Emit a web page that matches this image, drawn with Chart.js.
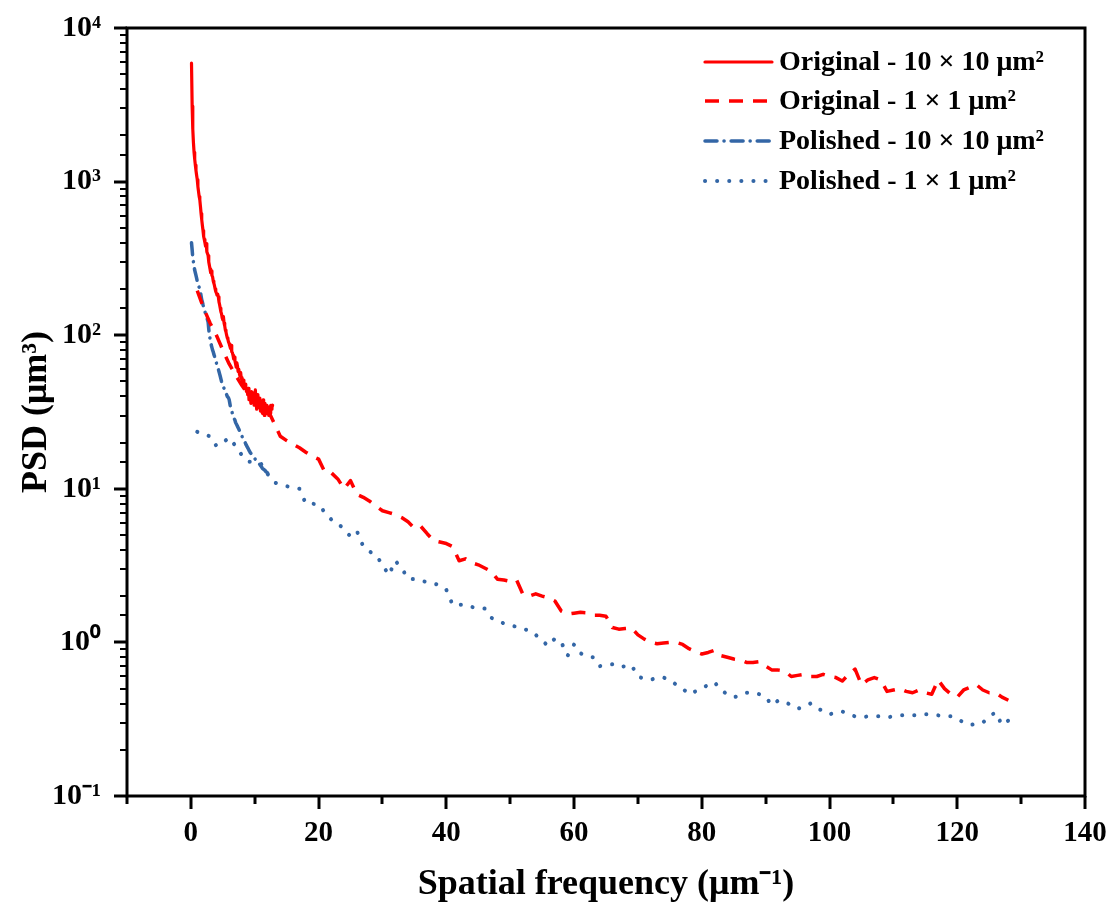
<!DOCTYPE html>
<html>
<head>
<meta charset="utf-8">
<script src="https://cdn.jsdelivr.net/npm/chart.js@4.4.1/dist/chart.umd.min.js"></script>
<style>
  html, body { margin: 0; padding: 0; background: #fff; }
  #wrap { width: 1116px; height: 908px; }
</style>
</head>
<body>
<div id="wrap"><canvas id="psdChart" width="1116" height="908"></canvas></div>
<script>
const seriesNames = [
    'Original - 10 × 10 μm²',
    'Original - 1 × 1 μm²',
    'Polished - 10 × 10 μm²',
    'Polished - 1 × 1 μm²',
];

// spatial frequency grids of the two scan sizes
const freqLarge = Array.from({ length: 128 }, (_, i) => (i + 1) / 10); // 10 x 10 scan: 0.1 .. 12.8
const freqSmall = Array.from({ length: 128 }, (_, i) => i + 1);        // 1 x 1 scan: 1 .. 128

// PSD values (um^3)
const psdOriginalLarge = [
    5900, 3100, 2200, 1800, 1550, 1400, 1280, 1180, 1100, 1030,
    930, 860, 800, 760, 690, 620, 565, 520, 480, 440,
    420, 400, 380, 395, 350, 340, 330, 300, 285, 270,
    255, 262, 245, 240, 225, 218, 210, 200, 192, 188,
    182, 185, 178, 165, 158, 150, 142, 138, 130, 126,
    132, 120, 115, 108, 105, 100, 96, 94, 90, 88,
    85, 82, 86, 78, 77, 74, 70, 72, 68, 65,
    62, 66, 63, 58, 60, 56, 54, 57, 52, 53,
    49, 51, 47, 45, 48, 46, 43, 44, 41, 45,
    38, 42, 40, 36, 43, 39, 37, 42, 35, 40,
    44, 37, 33, 41, 38, 34, 39, 36, 32, 37,
    35, 31, 38, 34, 30, 36, 33, 31, 35, 32,
    34, 30, 33, 31, 35, 33, 34, 35,
];
const psdOriginalSmall = [
    195, 150, 120, 100, 80, 65, 55, 47, 41, 36,
    32, 33, 27, 22, 20.6, 19.5, 18.5, 17.3, 16.3, 15.6,
    12.8, 12.7, 11.6, 10.0, 11.3, 9.2, 8.8, 8.3, 7.7, 7.2,
    7.0, 6.8, 6.5, 6.1, 5.55, 5.7, 5.1, 4.6, 4.5, 4.4,
    4.2, 3.4, 3.5, 3.3, 3.2, 3.05, 2.9, 2.58, 2.55, 2.5,
    2.55, 2.05, 2.0, 2.07, 2.0, 1.95, 1.86, 1.6, 1.53, 1.55,
    1.57, 1.56, 1.5, 1.5, 1.48, 1.25, 1.22, 1.23, 1.24, 1.12,
    1.05, 1.0, 0.98, 0.99, 1.0, 1.0, 0.97, 0.91, 0.87, 0.84,
    0.86, 0.89, 0.82, 0.8, 0.78, 0.77, 0.74, 0.74, 0.75, 0.7,
    0.66, 0.66, 0.65, 0.6, 0.61, 0.62, 0.6, 0.6, 0.62, 0.6,
    0.59, 0.56, 0.62, 0.67, 0.53, 0.57, 0.59, 0.57, 0.48, 0.49,
    0.5, 0.48, 0.47, 0.49, 0.47, 0.46, 0.57, 0.5, 0.46, 0.44,
    0.49, 0.51, 0.53, 0.49, 0.47, 0.47, 0.44, 0.42,
];
const psdPolishedLarge = [
    400, 360, 320, 300, 280, 265, 255, 245, 235, 225,
    215, 210, 205, 198, 190, 180, 170, 165, 158, 152,
    148, 142, 138, 133, 130, 126, 122, 110, 100, 95,
    90, 86, 83, 80, 78, 75, 73, 70, 68, 66,
    63, 61, 60, 58, 56, 54, 52, 50, 49, 48,
    46, 45, 44, 43, 42, 41, 40, 39.5, 39, 38,
    36, 34, 33, 32, 31, 30, 29, 28.5, 28, 27,
    26.5, 26, 25.5, 25, 24.5, 24, 23.5, 23, 22.5, 22,
    21.5, 21, 20.8, 20.5, 20, 19.5, 19.2, 18.8, 18.5, 18.2,
    17.8, 17.5, 17.2, 17, 16.8, 16.6, 16.4, 16.2, 16, 15.8,
    15.5, 15.3, 15.1, 14.9, 14.7, 14.6, 14.5, 14.4, 14.2, 14.0,
    13.8, 13.6, 13.5, 13.4, 13.3, 13.2, 13.0, 12.9, 12.8, 12.7,
    12.6, 12.5, 12.4, 12.3, 12.2, 12.1, 12.0, 11.9,
];
const psdPolishedSmall = [
    23.5, 22.5, 22, 19, 20, 21.5, 19, 16.5, 15, 15,
    14.5, 12.5, 11, 10.7, 10.4, 10.2, 10, 8.0, 8.0, 7.9,
    7.0, 6.3, 6.0, 5.4, 4.9, 5.3, 4.2, 3.9, 3.7, 3.2,
    2.74, 3.4, 3.05, 2.6, 2.58, 2.55, 2.45, 2.42, 2.35, 2.2,
    1.75, 1.76, 1.76, 1.7, 1.67, 1.66, 1.45, 1.38, 1.33, 1.3,
    1.26, 1.22, 1.2, 1.12, 1.02, 0.95, 1.06, 1.0, 0.82, 0.97,
    0.85, 0.81, 0.8, 0.7, 0.71, 0.72, 0.69, 0.7, 0.71, 0.6,
    0.58, 0.57, 0.59, 0.59, 0.57, 0.53, 0.5, 0.46, 0.48, 0.5,
    0.53, 0.55, 0.49, 0.46, 0.44, 0.45, 0.47, 0.47, 0.46, 0.44,
    0.39, 0.42, 0.41, 0.39, 0.37, 0.38, 0.4, 0.37, 0.36, 0.34,
    0.35, 0.355, 0.34, 0.33, 0.325, 0.33, 0.33, 0.33, 0.325, 0.33,
    0.335, 0.335, 0.335, 0.335, 0.34, 0.34, 0.335, 0.33, 0.33, 0.32,
    0.3, 0.29, 0.295, 0.3, 0.33, 0.35, 0.29, 0.31,
];

const xTicksLabelled = [0, 20, 40, 60, 80, 100, 120, 140];
const superDigits = { '-': '⁻', '0': '⁰', '1': '¹', '2': '²', '3': '³', '4': '⁴' };

const RED = '#ff0000';
const BLUE = '#3366a6';
const serif = '"Liberation Serif", "Times New Roman", serif';

function toPoints(xs, ys) {
    return xs.map((x, i) => ({ x: x, y: ys[i] }));
}

function isDecade(v) {
    const e = Math.log10(v);
    return Math.abs(e - Math.round(e)) < 1e-6;
}

// frame, tick marks and the legend box in the upper right
const framePlugin = {
    id: 'framePlugin',
    afterDraw(chart) {
        const ctx = chart.ctx;
        const area = chart.chartArea;
        const xs = chart.scales.x;
        const ys = chart.scales.y;
        ctx.save();
        ctx.strokeStyle = '#000';
        ctx.lineCap = 'butt';

        xs.ticks.forEach(t => {
            const px = Math.round(xs.getPixelForValue(t.value));
            const major = t.value % 20 === 0;
            ctx.lineWidth = 3;
            ctx.beginPath();
            ctx.moveTo(px, area.bottom);
            ctx.lineTo(px, area.bottom + (major ? 13 : 8));
            ctx.stroke();
        });
        ys.ticks.forEach(t => {
            const py = Math.round(ys.getPixelForValue(t.value));
            const major = isDecade(t.value);
            ctx.lineWidth = major ? 3 : 2;
            ctx.beginPath();
            ctx.moveTo(area.left, py);
            ctx.lineTo(area.left - (major ? 13 : 7), py);
            ctx.stroke();
        });

        ctx.lineWidth = 3;
        ctx.strokeRect(area.left, area.top, area.right - area.left, area.bottom - area.top);

        // legend
        const rowY = [62, 101, 141, 181];
        ctx.font = 'bold 28px ' + serif;
        ctx.textBaseline = 'middle';
        ctx.fillStyle = '#000';
        chart.data.datasets.forEach((ds, i) => {
            ctx.save();
            ctx.strokeStyle = ds.borderColor;
            ctx.lineWidth = ds.borderWidth;
            ctx.lineCap = ds.borderCapStyle;
            ctx.setLineDash(ds.borderDash);
            ctx.beginPath();
            ctx.moveTo(705, rowY[i]);
            ctx.lineTo(772, rowY[i]);
            ctx.stroke();
            ctx.restore();
            ctx.fillText(ds.label, 779, rowY[i] + 1);
        });
        ctx.restore();
    }
};

const ctx = document.getElementById('psdChart').getContext('2d');
const chart = new Chart(ctx, {
    type: 'line',
    data: {
        datasets: [
            {
                label: seriesNames[0],
                data: toPoints(freqLarge, psdOriginalLarge),
                borderColor: RED,
                borderWidth: 3.2,
                borderDash: [],
                borderCapStyle: 'round',
            },
            {
                label: seriesNames[1],
                data: toPoints(freqSmall, psdOriginalSmall),
                borderColor: RED,
                borderWidth: 3.5,
                borderDash: [14, 10],
                borderCapStyle: 'butt',
            },
            {
                label: seriesNames[2],
                data: toPoints(freqLarge, psdPolishedLarge),
                borderColor: BLUE,
                borderWidth: 3.5,
                borderDash: [12, 7, 0.1, 7],
                borderCapStyle: 'round',
            },
            {
                label: seriesNames[3],
                data: toPoints(freqSmall, psdPolishedSmall),
                borderColor: BLUE,
                borderWidth: 4,
                borderDash: [0.1, 12],
                borderCapStyle: 'round',
            },
        ],
    },
    options: {
        responsive: false,
        animation: false,
        parsing: false,
        layout: { padding: { top: 28, right: 31, left: 0, bottom: 0 } },
        elements: {
            point: { radius: 0 },
            line: { tension: 0, borderJoinStyle: 'round', fill: false },
        },
        plugins: {
            legend: { display: false },
            tooltip: { enabled: false },
        },
        scales: {
            x: {
                type: 'linear',
                min: -10,
                max: 140,
                grid: { display: false },
                border: { display: false },
                ticks: {
                    stepSize: 10,
                    autoSkip: false,
                    maxRotation: 0,
                    padding: 12,
                    color: '#000',
                    font: { family: serif, size: 29, weight: 'bold' },
                    callback: v => xTicksLabelled.includes(v) ? String(v) : '',
                },
                title: {
                    display: true,
                    text: 'Spatial frequency (μm⁻¹)',
                    color: '#000',
                    font: { family: serif, size: 36, weight: 'bold' },
                    padding: { top: 0, bottom: 2 },
                },
                afterFit: s => {
                    s.height = 112;
                    s.paddingLeft = 0;
                    s.paddingRight = 0;
                },
            },
            y: {
                type: 'logarithmic',
                min: 0.1,
                max: 10000,
                grid: { display: false },
                border: { display: false },
                ticks: {
                    autoSkip: false,
                    padding: 18,
                    color: '#000',
                    font: { family: serif, size: 30, weight: 'bold' },
                    callback: v => {
                        if (!isDecade(v)) return '';
                        const e = Math.round(Math.log10(v));
                        return '10' + String(e).split('').map(c => superDigits[c]).join('');
                    },
                },
                title: {
                    display: true,
                    text: 'PSD (μm³)',
                    color: '#000',
                    font: { family: serif, size: 36, weight: 'bold' },
                    padding: { top: 15, bottom: 0 },
                },
                afterFit: s => {
                    s.width = 127;
                    s.paddingTop = 0;
                    s.paddingBottom = 0;
                },
            },
        },
    },
    plugins: [framePlugin],
});
</script>
</body>
</html>
